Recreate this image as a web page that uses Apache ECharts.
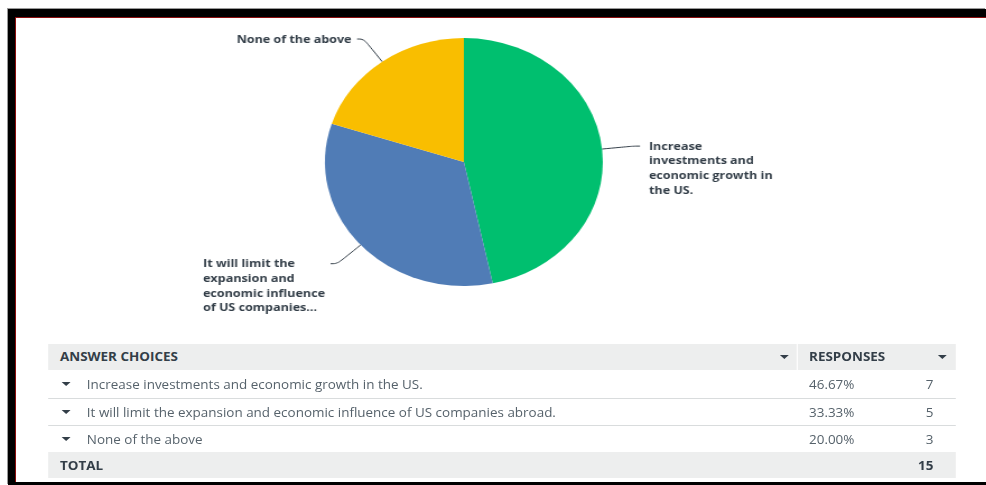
<!DOCTYPE html>
<html>
<head>
<meta charset="utf-8">
<script src="https://cdn.jsdelivr.net/npm/echarts@6/dist/echarts.min.js"></script>
<style>
  html, body { margin: 0; padding: 0; background: #fff; width: 986px; height: 485px; overflow: hidden; }
  #frame {
    position: absolute; left: 8px; top: 9px; width: 978px; height: 476px; box-sizing: border-box;
    border-top: 8px solid #000; border-left: 7px solid #000; border-bottom: 3px solid #000;
    box-shadow: -1px -1px 0 #9a9a9a, inset 1px 1px 0 #8a0d0d;
    pointer-events: none; z-index: 5;
  }
  #stage {
    position: absolute; left: 0; top: 0; width: 880px; height: 485px;
    transform: scaleX(1.1205); transform-origin: 0 0;
    font-family: "Open Sans", "Noto Sans", sans-serif;
  }
  #chart { position: absolute; left: 0; top: 0; width: 880px; height: 485px; }
  .cell { position: absolute; box-sizing: border-box; }
  .hdr { background: #edeeee; }
  .txt { position: absolute; font-size: 12px; line-height: 16px; white-space: nowrap; }
  .bold { font-weight: 700; color: #333e48; }
  .body { color: #56626b; }
  .tri { position: absolute; width: 0; height: 0; border-left: 4px solid transparent; border-right: 4px solid transparent; border-top: 4px solid #333e48; }
  .sep { position: absolute; height: 1px; background: #d9dcdd; }
</style>
</head>
<body>
<div id="stage">
  <div id="chart"></div>
  <div id="table"></div>
</div>
<div id="frame"></div>
<script>
// Answer choices, their short wrapped pie labels, and the response counts
const categories = [
  'Increase investments and economic growth in the US.',
  'It will limit the expansion and economic influence of US companies abroad.',
  'None of the above'
];
const pieLabels = [
  'Increase\ninvestments and\neconomic growth in\nthe US.',
  'It will limit the\nexpansion and\neconomic influence\nof US companies...',
  'None of the above'
];
const responses = [7, 5, 3];
const percentLabels = ['46.67%', '33.33%', '20.00%'];
const totalLabel = '15';
const colors = ['#00bf6f', '#507cb6', '#f9be00'];

const chart = echarts.init(document.getElementById('chart'), null, { renderer: 'canvas' });
chart.setOption({
  animation: false,
  color: colors,
  series: [{
    type: 'pie',
    center: [414, 162],
    radius: 124,
    startAngle: 90,
    clockwise: true,
    avoidLabelOverlap: false,
    silent: true,
    data: categories.map((c, i) => ({ name: c, value: responses[i], label: { formatter: pieLabels[i] } })),
    label: {
      show: true,
      position: 'outside',
      color: '#333e48',
      fontFamily: '"Open Sans", "Noto Sans", sans-serif',
      fontWeight: 'bold',
      fontSize: 11.2,
      lineHeight: 14.7
    },
    labelLine: {
      show: true,
      length: 28,
      length2: 6,
      smooth: 0.4,
      lineStyle: { color: '#333e48', width: 1 }
    },
    // keep each label's first line level with the end of its guide line
    labelLayout: function (p) {
      const pts = p.labelLinePoints;
      if (!pts) return {};
      const end = pts[pts.length - 1];
      const toRight = end[0] > pts[0][0];
      return {
        x: toRight ? end[0] + 8 : end[0] - 5 - p.labelRect.width,
        y: end[1] - 7,
        align: 'left',
        verticalAlign: 'top',
        labelLinePoints: pts
      };
    }
  }]
});

// Response summary table
const table = document.getElementById('table');
const L = 42.8, ansW = 668.6, respL = 712.2, respW = 141, R = respL + respW;
const colPct = 722, colCountRight = 833;
function add(html) { table.insertAdjacentHTML('beforeend', html); }
add(`<div class="cell hdr" style="left:${L}px;top:344px;width:${ansW}px;height:26px"></div>`);
add(`<div class="cell hdr" style="left:${respL}px;top:344px;width:${respW}px;height:26px"></div>`);
add(`<div class="txt bold" style="left:53.5px;top:349px">ANSWER CHOICES</div>`);
add(`<div class="tri" style="left:696px;top:355px"></div>`);
add(`<div class="txt bold" style="left:722px;top:349px">RESPONSES</div>`);
add(`<div class="tri" style="left:837px;top:355px"></div>`);
const rowTops = [370, 398, 425];
categories.forEach((c, i) => {
  const t = rowTops[i];
  add(`<div class="tri" style="left:54.5px;top:${t + 12}px"></div>`);
  add(`<div class="txt body" style="left:77.5px;top:${t + 7}px">${c}</div>`);
  add(`<div class="txt body" style="left:${colPct}px;top:${t + 7}px">${percentLabels[i]}</div>`);
  add(`<div class="txt body" style="right:${880 - colCountRight}px;top:${t + 7}px">${responses[i]}</div>`);
  if (i > 0) add(`<div class="sep" style="left:${L}px;top:${t}px;width:${R - L}px"></div>`);
});
add(`<div class="cell hdr" style="left:${L}px;top:452px;width:${R - L}px;height:26px"></div>`);
add(`<div class="txt bold" style="left:53.5px;top:458px">TOTAL</div>`);
add(`<div class="txt bold" style="right:${880 - colCountRight}px;top:458px">${totalLabel}</div>`);
</script>
</body>
</html>
